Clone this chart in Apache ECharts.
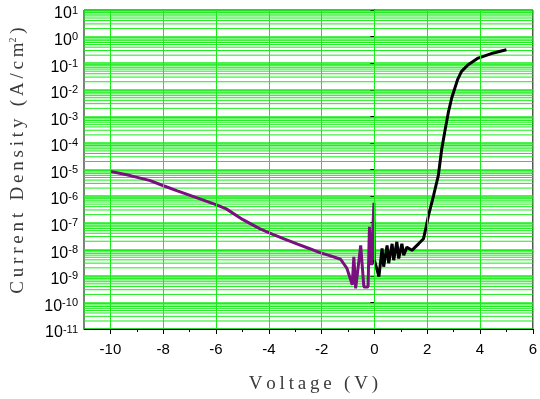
<!DOCTYPE html>
<html>
<head>
<meta charset="utf-8">
<script src="https://cdn.jsdelivr.net/npm/echarts@6/dist/echarts.min.js"></script>
<style>
  html, body { margin: 0; padding: 0; background: #fff; }
  #chart { width: 540px; height: 399px; }
</style>
</head>
<body>
<div id="chart"></div>
<script>
// reverse bias branch (purple)
const purpleV = [-10, -9.25, -8.49, -7.99, -7.49, -6.61, -5.98, -5.61, -4.98, -4.35, -3.85, -3.35, -2.91,
  -2.47, -2.09, -1.72, -1.28, -1.04, -0.84, -0.78, -0.71, -0.52, -0.40, -0.24, -0.19, -0.11, -0.02, 0.0]
const purpleJ = [8.5e-6, 5.9e-6, 3.8e-6, 2.45e-6, 1.6e-6, 7.9e-7, 4.7e-7, 3.3e-7, 1.3e-7, 6.0e-8, 3.6e-8, 2.3e-8, 1.55e-8,
  1.07e-8, 7.6e-9, 5.9e-9, 4.2e-9, 1.9e-9, 4.6e-10, 5.2e-9, 3.4e-10, 1.4e-8, 3.8e-10, 3.8e-10, 7.0e-8, 2.5e-9, 5.6e-7, 2.7e-9]
// forward bias branch (black)
const blackV = [0.0, 0.17, 0.29, 0.35, 0.48, 0.54, 0.67, 0.73, 0.85, 0.92, 1.04, 1.11, 1.23, 1.42, 1.67, 1.86, 1.96,
  2.05, 2.24, 2.42, 2.55, 2.68, 2.80, 2.93, 3.15, 3.30, 3.55, 3.93, 4.43, 5.0]
const blackJ = [3.9e-9, 9.3e-10, 1.07e-8, 2.2e-9, 1.4e-8, 3.0e-9, 1.6e-8, 3.9e-9, 1.9e-8, 4.5e-9, 1.6e-8, 6.0e-9, 1.2e-8, 9.1e-9, 1.6e-8, 2.5e-8, 7.0e-8,
  1.9e-7, 1.05e-6, 5.9e-6, 5.9e-5, 3.2e-4, 1.4e-3, 5.0e-3, 2.4e-2, 4.9e-2, 8.7e-2, 0.155, 0.23, 0.32]

const xTicks = [-10, -8, -6, -4, -2, 0, 2, 4, 6]
const xMinorTicks = [-9, -7, -5, -3, -1, 1, 3, 5]
const decades = [-11, -10, -9, -8, -7, -6, -5, -4, -3, -2, -1, 0]

const green = '#18ec18'
const xMin = -11
const xMax = 6

// minor log gridlines 2..9 x 10^n
const yMinor = []
decades.forEach(function (e) {
  for (let k = 2; k <= 9; k++) yMinor.push(k * Math.pow(10, e))
})
// horizontal minor gridlines as broken line segments
const minorGrid = []
yMinor.forEach(function (v) {
  minorGrid.push([xMin, v], [xMax, v], ['-', '-'])
})

// spaced out lettering like the original
function spaced(s) { return s.split('').join('\u2009') }

const chart = echarts.init(document.getElementById('chart'))
const option = {
  animation: false,
  grid: {
    left: 82,
    right: 6,
    top: 10,
    bottom: 68,
    show: true,
    borderColor: '#000',
    borderWidth: 1,
    backgroundColor: 'transparent'
  },
  xAxis: [
    {
      type: 'value',
      min: xMin,
      max: xMax,
      name: spaced('Voltage (V)'),
      nameLocation: 'middle',
      nameGap: 46,
      nameTextStyle: { fontFamily: 'Liberation Serif', fontSize: 19, color: '#3a3a3a', padding: [0, 0, 0, 10] },
      axisLine: { lineStyle: { color: '#000', width: 1 } },
      axisTick: { customValues: xTicks, length: 5, lineStyle: { color: '#000' } },
      axisLabel: { customValues: xTicks, margin: 13, fontFamily: 'Liberation Sans', fontSize: 15, color: '#000' },
      splitLine: { show: false }
    },
    {
      type: 'value',
      min: xMin,
      max: xMax,
      position: 'bottom',
      axisLine: { show: false },
      axisTick: { customValues: xMinorTicks, length: 3, lineStyle: { color: '#000' } },
      axisLabel: { show: false },
      splitLine: { show: false }
    }
  ],
  yAxis: [
    {
      type: 'log',
      min: 1e-11,
      max: 10,
      interval: 1,
      name: spaced('Current Density (A/cm') + '{sup|2}' + '\u2009)',
      nameLocation: 'middle',
      nameGap: 56,
      nameTextStyle: {
        fontFamily: 'Liberation Serif', fontSize: 19, color: '#3a3a3a',
        padding: [0, 0, 0, 18],
        rich: { sup: { fontFamily: 'Liberation Serif', fontSize: 10, color: '#3a3a3a', padding: [0, 0, 10, 0] } }
      },
      axisLine: { lineStyle: { color: '#000', width: 1 } },
      axisTick: { length: 4, lineStyle: { color: '#000' } },
      axisLabel: {
        margin: 6,
        padding: [8, 0, 0, 0],
        formatter: function (v) {
          const e = Math.round(Math.log10(v))
          return '{b|10}{s|' + e + '}'
        },
        rich: {
          b: { fontFamily: 'Liberation Sans', fontSize: 16, lineHeight: 18, color: '#000' },
          s: { fontFamily: 'Liberation Sans', fontSize: 11, lineHeight: 11, verticalAlign: 'top', color: '#000' }
        }
      },
      splitLine: { show: true, lineStyle: { color: green, width: 1.5 } }
    }
  ],
  series: [
    {
      type: 'line',
      z: 1,
      silent: true,
      data: minorGrid,
      showSymbol: false,
      connectNulls: false,
      lineStyle: { color: green, width: 1 },
      markLine: {
        silent: true,
        symbol: 'none',
        label: { show: false },
        lineStyle: { color: green, width: 1, type: 'solid' },
        data: xTicks.slice(0, -1).map(function (v) { return { xAxis: v } })
      }
    },
    {
      type: 'line',
      z: 3,
      data: purpleV.map(function (v, i) { return [v, purpleJ[i]] }),
      showSymbol: false,
      lineStyle: { color: '#7a0f7f', width: 3 },
      itemStyle: { color: '#7a0f7f' }
    },
    {
      type: 'line',
      z: 3,
      data: blackV.map(function (v, i) { return [v, blackJ[i]] }),
      showSymbol: false,
      lineStyle: { color: '#000', width: 3 },
      itemStyle: { color: '#000' }
    }
  ]
}
chart.setOption(option)
</script>
</body>
</html>
